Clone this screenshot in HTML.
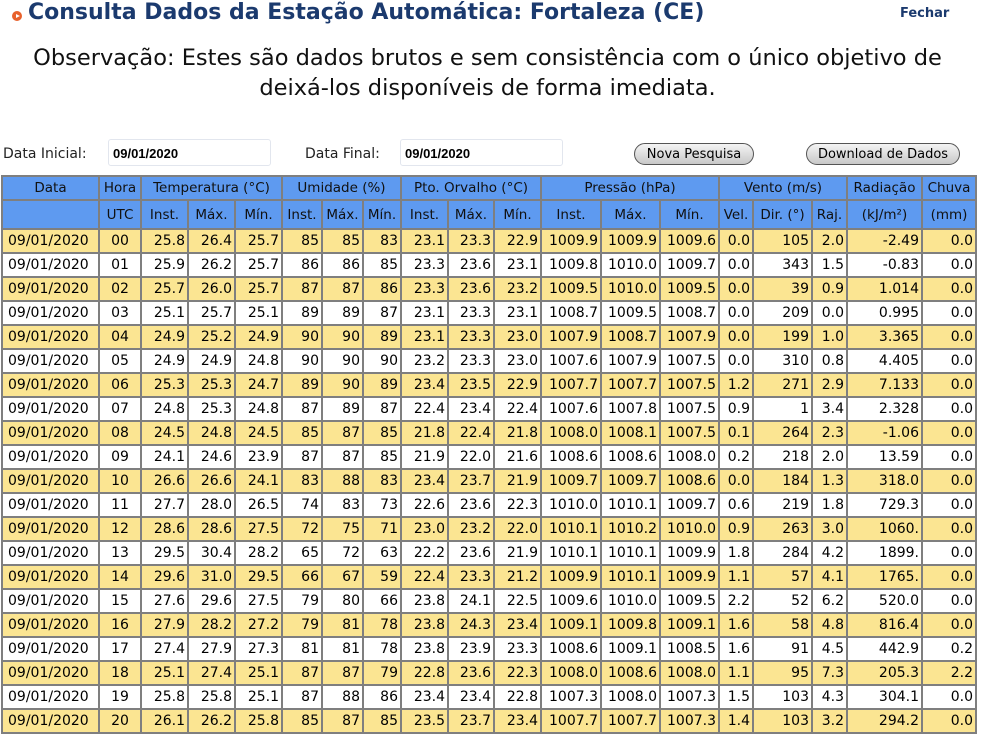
<!DOCTYPE html>
<html><head><meta charset="utf-8"><style>
body{margin:0;width:995px;height:746px;overflow:hidden;background:#fff;font-family:"DejaVu Sans","Liberation Sans",sans-serif;position:relative}
.t{position:absolute;left:28px;top:0px;font-size:22px;font-weight:bold;color:#1b3a6e;white-space:nowrap}
.ic{position:absolute;left:12px;top:11px;width:10px;height:10px;border-radius:50%;background:#e8612c}
.ic:after{content:"";position:absolute;left:4px;top:2.5px;border-left:4px solid #fff;border-top:2.5px solid transparent;border-bottom:2.5px solid transparent}
.f{position:absolute;left:900px;top:6px;font-size:13px;font-weight:bold;color:#1b3a6e}
.o{position:absolute;left:0;width:975px;top:43px;text-align:center;font-size:22.5px;line-height:30px;color:#111}
.lb{position:absolute;top:146px;font-size:14px;color:#222}
.in{position:absolute;top:139px;height:27px;border:1px solid #e2e6ee;border-radius:3px;font-family:"Liberation Sans",sans-serif;font-weight:bold;font-size:13px;line-height:27px;padding-left:4px;box-sizing:border-box}
.bt{position:absolute;top:143px;height:22px;border:1px solid #555;border-radius:11px;background:linear-gradient(#f4f4f4,#c8c8c8);font-size:13px;line-height:21px;text-align:center;box-sizing:border-box}
table{position:absolute;left:1px;top:175px;border-collapse:collapse;table-layout:fixed;font-size:14px}
td{border:2px solid #7f7f7f;padding:0 2px;height:22px;text-align:right;white-space:nowrap;overflow:hidden}
tr.h td{background:#5e9af0;text-align:center;color:#111;font-size:13.5px;height:22px}
tr.h2 td{height:27px}
tr.y td{background:#fbe592}
td.c{text-align:center}
td.l{text-align:left;padding-left:5px}
</style></head><body>
<div class="ic"></div>
<div class="t">Consulta Dados da Estação Automática: Fortaleza (CE)</div>
<div class="f">Fechar</div>
<div class="o">Observação: Estes são dados brutos e sem consistência com o único objetivo de<br>deixá-los disponíveis de forma imediata.</div>
<div class="lb" style="left:3px">Data Inicial:</div>
<div class="in" style="left:108px;width:163px">09/01/2020</div>
<div class="lb" style="left:305px">Data Final:</div>
<div class="in" style="left:400px;width:163px">09/01/2020</div>
<div class="bt" style="left:634px;width:120px">Nova Pesquisa</div>
<div class="bt" style="left:806px;width:154px">Download de Dados</div>
<table>
<colgroup><col style="width:97px"><col style="width:42px"><col style="width:47px"><col style="width:47px"><col style="width:47px"><col style="width:40px"><col style="width:41px"><col style="width:38px"><col style="width:47px"><col style="width:46px"><col style="width:47px"><col style="width:60px"><col style="width:59px"><col style="width:59px"><col style="width:34px"><col style="width:59px"><col style="width:35px"><col style="width:75px"><col style="width:54px"></colgroup>
<tr class="h"><td>Data</td><td>Hora</td><td colspan="3">Temperatura (°C)</td><td colspan="3">Umidade (%)</td><td colspan="3">Pto. Orvalho (°C)</td><td colspan="3">Pressão (hPa)</td><td colspan="3">Vento (m/s)</td><td>Radiação</td><td>Chuva</td></tr>
<tr class="h h2"><td></td><td>UTC</td><td>Inst.</td><td>Máx.</td><td>Mín.</td><td>Inst.</td><td>Máx.</td><td>Mín.</td><td>Inst.</td><td>Máx.</td><td>Mín.</td><td>Inst.</td><td>Máx.</td><td>Mín.</td><td>Vel.</td><td>Dir. (°)</td><td>Raj.</td><td>(kJ/m²)</td><td>(mm)</td></tr>
<tr class="y"><td class="l">09/01/2020</td><td class="c">00</td><td>25.8</td><td>26.4</td><td>25.7</td><td>85</td><td>85</td><td>83</td><td>23.1</td><td>23.3</td><td>22.9</td><td>1009.9</td><td>1009.9</td><td>1009.6</td><td>0.0</td><td>105</td><td>2.0</td><td>-2.49</td><td>0.0</td></tr>
<tr><td class="l">09/01/2020</td><td class="c">01</td><td>25.9</td><td>26.2</td><td>25.7</td><td>86</td><td>86</td><td>85</td><td>23.3</td><td>23.6</td><td>23.1</td><td>1009.8</td><td>1010.0</td><td>1009.7</td><td>0.0</td><td>343</td><td>1.5</td><td>-0.83</td><td>0.0</td></tr>
<tr class="y"><td class="l">09/01/2020</td><td class="c">02</td><td>25.7</td><td>26.0</td><td>25.7</td><td>87</td><td>87</td><td>86</td><td>23.3</td><td>23.6</td><td>23.2</td><td>1009.5</td><td>1010.0</td><td>1009.5</td><td>0.0</td><td>39</td><td>0.9</td><td>1.014</td><td>0.0</td></tr>
<tr><td class="l">09/01/2020</td><td class="c">03</td><td>25.1</td><td>25.7</td><td>25.1</td><td>89</td><td>89</td><td>87</td><td>23.1</td><td>23.3</td><td>23.1</td><td>1008.7</td><td>1009.5</td><td>1008.7</td><td>0.0</td><td>209</td><td>0.0</td><td>0.995</td><td>0.0</td></tr>
<tr class="y"><td class="l">09/01/2020</td><td class="c">04</td><td>24.9</td><td>25.2</td><td>24.9</td><td>90</td><td>90</td><td>89</td><td>23.1</td><td>23.3</td><td>23.0</td><td>1007.9</td><td>1008.7</td><td>1007.9</td><td>0.0</td><td>199</td><td>1.0</td><td>3.365</td><td>0.0</td></tr>
<tr><td class="l">09/01/2020</td><td class="c">05</td><td>24.9</td><td>24.9</td><td>24.8</td><td>90</td><td>90</td><td>90</td><td>23.2</td><td>23.3</td><td>23.0</td><td>1007.6</td><td>1007.9</td><td>1007.5</td><td>0.0</td><td>310</td><td>0.8</td><td>4.405</td><td>0.0</td></tr>
<tr class="y"><td class="l">09/01/2020</td><td class="c">06</td><td>25.3</td><td>25.3</td><td>24.7</td><td>89</td><td>90</td><td>89</td><td>23.4</td><td>23.5</td><td>22.9</td><td>1007.7</td><td>1007.7</td><td>1007.5</td><td>1.2</td><td>271</td><td>2.9</td><td>7.133</td><td>0.0</td></tr>
<tr><td class="l">09/01/2020</td><td class="c">07</td><td>24.8</td><td>25.3</td><td>24.8</td><td>87</td><td>89</td><td>87</td><td>22.4</td><td>23.4</td><td>22.4</td><td>1007.6</td><td>1007.8</td><td>1007.5</td><td>0.9</td><td>1</td><td>3.4</td><td>2.328</td><td>0.0</td></tr>
<tr class="y"><td class="l">09/01/2020</td><td class="c">08</td><td>24.5</td><td>24.8</td><td>24.5</td><td>85</td><td>87</td><td>85</td><td>21.8</td><td>22.4</td><td>21.8</td><td>1008.0</td><td>1008.1</td><td>1007.5</td><td>0.1</td><td>264</td><td>2.3</td><td>-1.06</td><td>0.0</td></tr>
<tr><td class="l">09/01/2020</td><td class="c">09</td><td>24.1</td><td>24.6</td><td>23.9</td><td>87</td><td>87</td><td>85</td><td>21.9</td><td>22.0</td><td>21.6</td><td>1008.6</td><td>1008.6</td><td>1008.0</td><td>0.2</td><td>218</td><td>2.0</td><td>13.59</td><td>0.0</td></tr>
<tr class="y"><td class="l">09/01/2020</td><td class="c">10</td><td>26.6</td><td>26.6</td><td>24.1</td><td>83</td><td>88</td><td>83</td><td>23.4</td><td>23.7</td><td>21.9</td><td>1009.7</td><td>1009.7</td><td>1008.6</td><td>0.0</td><td>184</td><td>1.3</td><td>318.0</td><td>0.0</td></tr>
<tr><td class="l">09/01/2020</td><td class="c">11</td><td>27.7</td><td>28.0</td><td>26.5</td><td>74</td><td>83</td><td>73</td><td>22.6</td><td>23.6</td><td>22.3</td><td>1010.0</td><td>1010.1</td><td>1009.7</td><td>0.6</td><td>219</td><td>1.8</td><td>729.3</td><td>0.0</td></tr>
<tr class="y"><td class="l">09/01/2020</td><td class="c">12</td><td>28.6</td><td>28.6</td><td>27.5</td><td>72</td><td>75</td><td>71</td><td>23.0</td><td>23.2</td><td>22.0</td><td>1010.1</td><td>1010.2</td><td>1010.0</td><td>0.9</td><td>263</td><td>3.0</td><td>1060.</td><td>0.0</td></tr>
<tr><td class="l">09/01/2020</td><td class="c">13</td><td>29.5</td><td>30.4</td><td>28.2</td><td>65</td><td>72</td><td>63</td><td>22.2</td><td>23.6</td><td>21.9</td><td>1010.1</td><td>1010.1</td><td>1009.9</td><td>1.8</td><td>284</td><td>4.2</td><td>1899.</td><td>0.0</td></tr>
<tr class="y"><td class="l">09/01/2020</td><td class="c">14</td><td>29.6</td><td>31.0</td><td>29.5</td><td>66</td><td>67</td><td>59</td><td>22.4</td><td>23.3</td><td>21.2</td><td>1009.9</td><td>1010.1</td><td>1009.9</td><td>1.1</td><td>57</td><td>4.1</td><td>1765.</td><td>0.0</td></tr>
<tr><td class="l">09/01/2020</td><td class="c">15</td><td>27.6</td><td>29.6</td><td>27.5</td><td>79</td><td>80</td><td>66</td><td>23.8</td><td>24.1</td><td>22.5</td><td>1009.6</td><td>1010.0</td><td>1009.5</td><td>2.2</td><td>52</td><td>6.2</td><td>520.0</td><td>0.0</td></tr>
<tr class="y"><td class="l">09/01/2020</td><td class="c">16</td><td>27.9</td><td>28.2</td><td>27.2</td><td>79</td><td>81</td><td>78</td><td>23.8</td><td>24.3</td><td>23.4</td><td>1009.1</td><td>1009.8</td><td>1009.1</td><td>1.6</td><td>58</td><td>4.8</td><td>816.4</td><td>0.0</td></tr>
<tr><td class="l">09/01/2020</td><td class="c">17</td><td>27.4</td><td>27.9</td><td>27.3</td><td>81</td><td>81</td><td>78</td><td>23.8</td><td>23.9</td><td>23.3</td><td>1008.6</td><td>1009.1</td><td>1008.5</td><td>1.6</td><td>91</td><td>4.5</td><td>442.9</td><td>0.2</td></tr>
<tr class="y"><td class="l">09/01/2020</td><td class="c">18</td><td>25.1</td><td>27.4</td><td>25.1</td><td>87</td><td>87</td><td>79</td><td>22.8</td><td>23.6</td><td>22.3</td><td>1008.0</td><td>1008.6</td><td>1008.0</td><td>1.1</td><td>95</td><td>7.3</td><td>205.3</td><td>2.2</td></tr>
<tr><td class="l">09/01/2020</td><td class="c">19</td><td>25.8</td><td>25.8</td><td>25.1</td><td>87</td><td>88</td><td>86</td><td>23.4</td><td>23.4</td><td>22.8</td><td>1007.3</td><td>1008.0</td><td>1007.3</td><td>1.5</td><td>103</td><td>4.3</td><td>304.1</td><td>0.0</td></tr>
<tr class="y"><td class="l">09/01/2020</td><td class="c">20</td><td>26.1</td><td>26.2</td><td>25.8</td><td>85</td><td>87</td><td>85</td><td>23.5</td><td>23.7</td><td>23.4</td><td>1007.7</td><td>1007.7</td><td>1007.3</td><td>1.4</td><td>103</td><td>3.2</td><td>294.2</td><td>0.0</td></tr>
</table>
</body></html>
